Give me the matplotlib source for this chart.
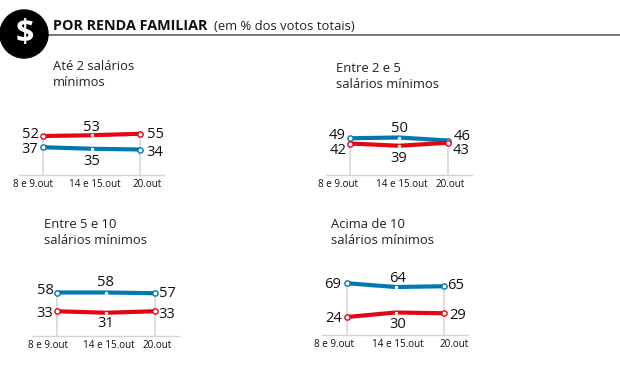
import matplotlib
matplotlib.use("Agg")
import matplotlib.pyplot as plt
from matplotlib.patches import Circle
from matplotlib.transforms import ScaledTranslation

plt.rcParams['font.family'] = ['Open Sans', 'DejaVu Sans']

# datas e valores
datas = ["8 e 9.out", "14 e 15.out", "20.out"]
titulos = ["Até 2 salários\nmínimos", "Entre 2 e 5\nsalários mínimos",
           "Entre 5 e 10\nsalários mínimos", "Acima de 10\nsalários mínimos"]
vermelho = [[52, 53, 55], [42, 39, 43], [33, 31, 33], [24, 30, 29]]
azul = [[37, 35, 34], [49, 50, 46], [58, 58, 57], [69, 64, 65]]

# layout em pixels: eixo esq, eixo dir, x primeiro ponto, x ultimo ponto, base
paineis = [(19, 164, 43, 140, 175), (326, 472, 350, 448, 175),
           (32, 179, 57, 155, 336), (322, 468, 347, 444, 335)]
pos_titulo = [(53, 67), (336, 68), (44, 225), (331, 225)]
desl_verm = [[(-13, 2), (0, 8), (15, -1)], [(-12, -7), (0, -13), (13, -8)],
             [(-12, -2), (0, -11), (12, -3)], [(-13, -2), (2, -11.5), (14, -2)]]
desl_azul = [[(-13, -2), (0, -13), (15, -3.5)], [(-13, 3), (0, 9.5), (14, 4)],
             [(-12, 2.5), (0, 9.5), (12, 0)], [(-14, -1), (2, 8), (12, 1)]]
desl_datas = [[-10, 3, 7], [-12, 3, 2], [-9, 3, 2], [-13, 2, 10]]

W, H = 620, 368
VERM = "#e30613"
AZUL = "#0079ae"
CINZA = "#d4d4d4"

fig = plt.figure(figsize=(W / 100, H / 100), dpi=100)

# camada de fundo em pixels: cabecalho e titulos
bg = fig.add_axes([0, 0, 1, 1])
bg.set_xlim(0, W)
bg.set_ylim(H, 0)
bg.axis("off")
bg.plot([40, W], [34.5, 34.5], color="#555555", lw=1.1)
bg.add_patch(Circle((24, 34), 24, color="black", zorder=3))
bg.text(24.5, 34, "$", color="white", fontsize=23, fontweight="bold",
        ha="center", va="center", zorder=4)
bg.text(53, 26, "POR RENDA FAMILIAR", fontsize=10.4, fontweight="bold", va="center",
        color="#111111")
bg.text(214, 26.5, "(em % dos votos totais)", fontsize=9.4, va="center", color="#222222")
for t, (x, y) in zip(titulos, pos_titulo):
    linhas = t.split("\n")
    bg.text(x, y, linhas[0], fontsize=9.4, va="center", color="#222222")
    bg.text(x, y + 16, linhas[1], fontsize=9.4, va="center", color="#222222")


def desenha(i):
    esq, dir_, x0, x2, base = paineis[i]
    ax = fig.add_axes([esq / W, 1 - base / H, (dir_ - esq) / W, 60 / H])
    esc = (x2 - x0) / 2
    ax.set_xlim((esq - x0) / esc, (dir_ - x0) / esc)
    ax.set_ylim(0, 80)
    ax.patch.set_alpha(0)
    for lado in ["top", "left", "right"]:
        ax.spines[lado].set_visible(False)
    ax.spines["bottom"].set_color(CINZA)
    ax.spines["bottom"].set_linewidth(1)
    ax.set_yticks([])
    ax.set_xticks(range(3))
    ax.set_xticklabels(datas, fontsize=7.1, color="#111111")
    ax.tick_params(axis="x", length=0, pad=2.6)
    for lab, dx in zip(ax.get_xticklabels(), desl_datas[i]):
        lab.set_transform(lab.get_transform() + ScaledTranslation(dx / 100, 0, fig.dpi_scale_trans))

    topo = max(vermelho[i][0], azul[i][0]), max(vermelho[i][2], azul[i][2])
    ax.plot([0, 0], [0, topo[0]], color=CINZA, lw=1.1, zorder=1)
    ax.plot([2, 2], [0, topo[1]], color=CINZA, lw=1.1, zorder=1)

    for vals, cor, desl in [(azul[i], AZUL, desl_azul[i]), (vermelho[i], VERM, desl_verm[i])]:
        ax.plot(range(3), vals, color=cor, lw=3, solid_capstyle="round", zorder=3, clip_on=False)
        ax.plot([0, 2], [vals[0], vals[2]], ls="", marker="o", ms=3.8, mfc="white", mec=cor,
                mew=1, zorder=4, clip_on=False)
        ax.plot([1], [vals[1]], ls="", marker="o", ms=2.5, mfc="white", mec="white",
                mew=0, zorder=4, clip_on=False)
        for k, v in enumerate(vals):
            ax.annotate(str(v), (k, v), xytext=desl[k], textcoords="offset pixels",
                        ha="center", va="center", fontsize=10.6, color="#111111", zorder=5,
                        annotation_clip=False)


for i in range(4):
    desenha(i)

fig.savefig("out.png", dpi=100)
